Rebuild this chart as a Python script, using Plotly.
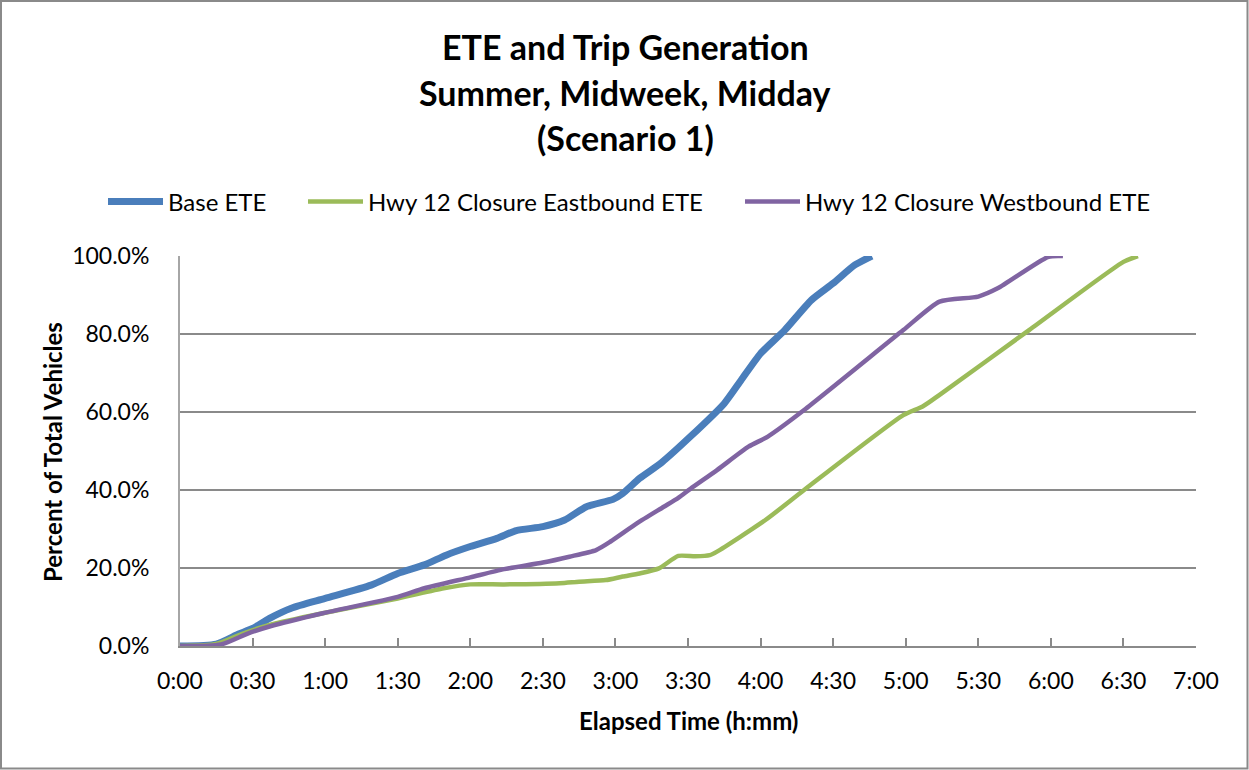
import plotly.graph_objects as go

# Elapsed time (minutes) and cumulative percent of vehicles for each scenario
base_t = [0, 15, 24, 30, 37, 46, 60, 79, 90, 101, 110, 120, 131, 139, 150, 159,
          168, 179, 183, 190, 199, 211, 225, 232, 240, 250, 261, 270, 279, 286]
base_v = [0, 0.5, 3.0, 4.5, 7.1, 9.7, 12.2, 15.6, 18.6, 20.8, 23.3, 25.5, 27.6, 29.6, 30.6, 32.3,
          35.7, 37.6, 39.1, 43.0, 47.0, 53.7, 62.2, 68.2, 75.0, 81.0, 88.7, 93.0, 97.7, 100.0]

east_t = [0, 15, 26, 37, 59, 90, 109, 120, 134, 157, 165, 176, 183, 190, 198, 206,
          213, 219, 222, 242, 258, 299, 307, 314, 351, 390, 396]
east_v = [0, 0.5, 3.2, 5.4, 8.4, 12.2, 14.8, 15.8, 15.8, 16.1, 16.5, 16.9, 17.8, 18.6, 19.9, 23.1,
          23.0, 23.3, 24.2, 32.3, 40.0, 59.2, 61.4, 64.4, 81.0, 98.5, 100.0]

west_t = [0, 17, 28, 37, 59, 90, 101, 120, 134, 150, 161, 172, 178, 189, 200,
          206, 211, 222, 235, 243, 258, 299, 314, 330, 338, 359, 365]
west_v = [0, 0.4, 3.2, 5.0, 8.4, 12.6, 14.8, 17.6, 19.7, 21.4, 22.9, 24.6, 26.8, 31.5, 35.7,
          38.0, 40.3, 45.1, 51.1, 53.7, 60.5, 81.0, 88.3, 89.6, 91.7, 99.8, 100.0]

tick_vals = list(range(0, 421, 30))
tick_text = ["0:00", "0:30", "1:00", "1:30", "2:00", "2:30", "3:00", "3:30",
             "4:00", "4:30", "5:00", "5:30", "6:00", "6:30", "7:00"]
y_ticks = [0, 20, 40, 60, 80, 100]
y_text = ["0.0%", "20.0%", "40.0%", "60.0%", "80.0%", "100.0%"]

FONT = "Lato"
GRID = "#8a8a8a"

W, H = 1249, 770
L, R, T, B = 180, 53, 256, 124
pw, ph = W - L - R, H - T - B


def px(x):
    return (x - L) / pw


def py(y):
    return (H - B - y) / ph


fig = go.Figure()
fig.add_trace(go.Scatter(x=base_t, y=base_v, name="Base ETE", mode="lines", legend="legend",
                         line=dict(color="#4a7ebb", width=7, shape="spline", smoothing=0.6)))
fig.add_trace(go.Scatter(x=east_t, y=east_v, name="Hwy 12 Closure Eastbound ETE", mode="lines",
                         legend="legend2",
                         line=dict(color="#9bbb59", width=4.5, shape="spline", smoothing=0.6)))
fig.add_trace(go.Scatter(x=west_t, y=west_v, name="Hwy 12 Closure Westbound ETE", mode="lines",
                         legend="legend3",
                         line=dict(color="#8064a2", width=4.5, shape="spline", smoothing=0.6)))

fig.update_xaxes(range=[0, 420], tickvals=tick_vals, ticktext=tick_text,
                 showgrid=False, zeroline=False, showline=True, linecolor=GRID, linewidth=2,
                 ticks="inside", ticklen=8, tickwidth=2, tickcolor=GRID,
                 tickfont=dict(family=FONT, size=23, color="black"), ticklabelstandoff=13)
fig.update_yaxes(range=[0, 100], tickvals=y_ticks, ticktext=y_text,
                 showgrid=True, gridcolor=GRID, gridwidth=2, zeroline=False,
                 showline=True, linecolor="#a6a6a6", linewidth=2, ticks="",
                 tickfont=dict(family=FONT, size=23, color="black"), ticklabelstandoff=24)

annotations = []
for text, yc in [("ETE and Trip Generation", 47), ("Summer, Midweek, Midday", 93), ("(Scenario 1)", 137)]:
    annotations.append(dict(text=f"<b>{text}</b>", x=px(625), y=py(yc), xref="paper", yref="paper",
                            xanchor="center", yanchor="middle", showarrow=False,
                            font=dict(family=FONT, size=34, color="black")))
annotations.append(dict(text="<b>Elapsed Time (h:mm)</b>", x=px(688), y=py(720), xref="paper", yref="paper",
                        xanchor="center", yanchor="middle", showarrow=False,
                        font=dict(family=FONT, size=24, color="black")))
annotations.append(dict(text="<b>Percent of Total Vehicles</b>", x=px(52), y=py(452), xref="paper", yref="paper",
                        xanchor="center", yanchor="middle", showarrow=False, textangle=-90,
                        font=dict(family=FONT, size=24, color="black")))

legend_style = dict(orientation="h", xanchor="left", yanchor="middle", y=py(202),
                    font=dict(family=FONT, size=24, color="black"), itemwidth=55,
                    bgcolor="rgba(0,0,0,0)", borderwidth=0)

fig.update_layout(
    width=W, height=H,
    margin=dict(l=L, r=R, t=T, b=B),
    paper_bgcolor="white", plot_bgcolor="white",
    showlegend=True,
    legend=dict(legend_style, x=px(103)),
    legend2=dict(legend_style, x=px(303)),
    legend3=dict(legend_style, x=px(740)),
    annotations=annotations,
    shapes=[dict(type="rect", xref="paper", yref="paper",
                 x0=px(1), x1=px(1247.5), y0=py(768.5), y1=py(1),
                 line=dict(color="#8a8a8a", width=2), fillcolor="rgba(0,0,0,0)", layer="below")],
)

fig.write_html("out.html")
